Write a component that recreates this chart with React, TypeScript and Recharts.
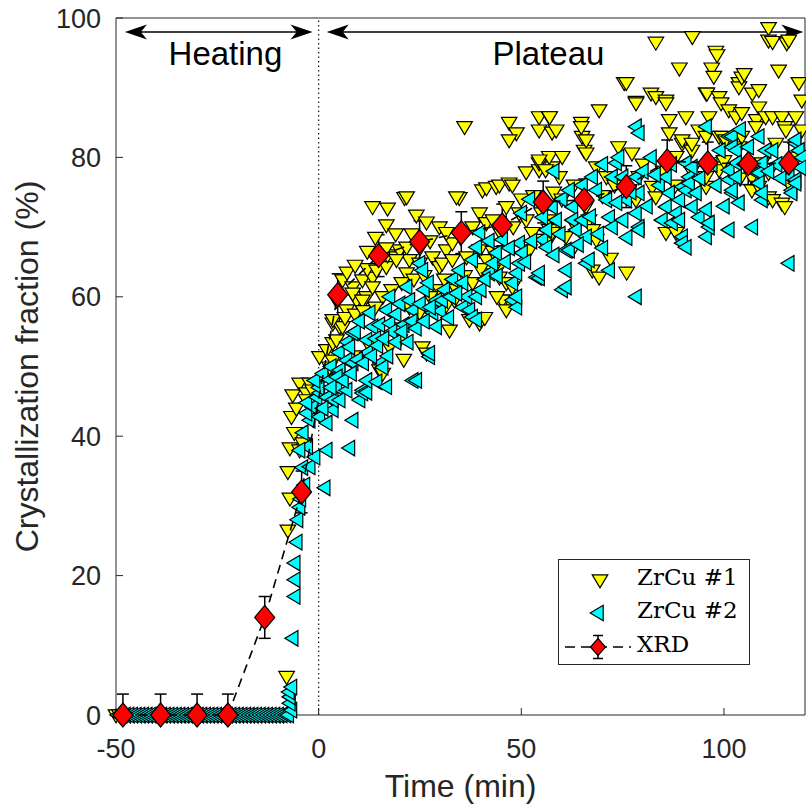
import {
  ScatterChart,
  Scatter,
  XAxis,
  YAxis,
  ReferenceLine,
  ReferenceDot,
  ErrorBar,
  Legend,
} from "recharts";

const FONT = '"Liberation Sans", Arial, Helvetica, sans-serif';
const SERIF = '"DejaVu Serif", "Liberation Serif", serif';
const AXIS = "#262626";
const YELLOW = "#ffff00";
const CYAN = "#00ffff";
const RED = "#ff0000";

const xTicks = [-50, 0, 50, 100];
const yTicks = [0, 20, 40, 60, 80, 100];

// ZrCu #1 (yellow, down triangles): times sitting at 0 %, then [time, fraction]
const zrcu1Flat = [
  -50, -49.1, -48.2, -47.3, -46.4, -45.5, -44.6, -43.7, -42.8, -41.9, -41, -40.1, -39.2, -38.3, -37.4, -36.5,
  -35.6, -34.7, -33.8, -32.9, -32, -31.1, -30.2, -29.3, -28.4, -27.5, -26.6, -25.7, -24.8, -23.9, -23, -22.1,
  -21.2, -20.3, -19.4, -18.5, -17.6, -16.7, -15.8, -14.9, -14, -13.1, -12.2, -11.3, -10.4, -9.5, -8.6,
];
const zrcu1Rest: [number, number][] = [
  [-7.9, 5.5], [-7.6, 26.5], [-7.1, 31.1], [-7.6, 34.9], [-7.1, 38.3], [-6, 40.5], [-6.7, 42.8], [-5.5, 44],
  [-6.4, 45.9], [-4.7, 47.6], [-3, 46.2], [-2.2, 47.6], [-1.5, 46.6], [-0.2, 47.3], [-4.7, 38], [-3.9, 39],
  [-3, 45.2], [0.2, 51.4], [2.7, 48.5], [2.7, 49.9], [2, 52.4], [3.5, 50.9], [3.5, 53.4], [4.4, 53.8],
  [3.5, 56.2], [5.2, 55.7], [5.9, 55.7], [3.5, 56.7], [4.4, 59.5], [6.9, 58.1], [9.4, 59.5], [11.8, 60],
  [5.9, 62.4], [8.4, 61.4], [10.8, 62.4], [13.3, 62.8], [8.4, 60.5], [10.8, 59.5], [13.3, 61.4], [15.8, 60],
  [7, 63.5], [12, 64], [14.3, 63.8], [16.7, 64.3], [17, 66], [19.2, 65.7], [20, 66.7], [21.7, 67.1],
  [16.7, 67], [22.4, 65.3], [24.9, 64.8], [21.7, 63.4], [19.2, 65.3], [28.1, 65.7], [29.8, 64.3], [30.5, 64.8],
  [31.5, 66.7], [33, 65.3], [33, 67.7], [36.5, 65.7], [39.7, 66.7], [41.4, 65.3], [44.6, 64.3], [42.9, 63.8],
  [44.6, 62.8], [46.3, 62], [47.8, 61.4], [47, 59.5], [45.3, 59.5], [46.3, 58.1], [29.8, 61], [32.3, 55.2],
  [37.2, 56.7], [39.7, 56.2], [41, 57], [44, 60], [22.4, 58.5], [24.9, 57.7], [17.5, 52.8], [20, 53.8],
  [25.6, 52.8], [26.6, 51.9], [15, 49.5], [15.8, 49], [13.3, 72.9], [17, 72.7], [16.7, 70.3], [21.2, 74.2],
  [21.7, 74.3], [24.1, 71.7], [26.6, 70.7], [29.8, 70], [31.5, 69.2], [34.7, 74.2], [34, 74.3], [36, 84.4],
  [39.7, 72], [41.4, 70.6], [43, 71], [45, 69], [48, 70], [46.3, 72.9], [49.5, 72], [51.2, 71],
  [52.7, 69.2], [52, 66.7], [55.2, 68.2], [56.9, 68.2], [56.9, 69.6], [55, 72], [50, 74], [53, 74.5],
  [40.4, 75.3], [41.4, 75.6], [43.8, 75.8], [44.6, 76], [47, 76.3], [47.8, 76], [51.2, 77.9], [54.4, 78.2],
  [57.6, 78.6], [58, 75], [47, 85], [48.8, 83.5], [47, 82.5], [54.4, 85.8], [56.9, 85.8], [54.4, 83.9],
  [57.6, 83.6], [57, 85.8], [58.6, 83.9], [54.4, 79.2], [56.9, 80.1], [60.1, 80.1], [54.4, 79.6], [56, 78.2],
  [59.4, 77.2], [57, 71], [57.6, 69.2], [61, 68.6], [63.5, 70], [66.7, 71], [62.6, 66.7], [67.5, 63.8],
  [60, 74], [63, 76], [66, 73], [64.8, 85], [65, 83], [65.5, 81], [64.8, 84.4], [66, 82.5],
  [66, 80.6], [68.5, 78.6], [71, 77.2], [70, 74.5], [73, 76], [67.6, 69.6], [68.5, 68.2], [69.2, 62.8],
  [72, 65.5], [76, 63.5], [69.2, 86.8], [75.4, 90.7], [75.9, 90.7], [74, 81.5], [77.3, 80.6], [76.6, 75.3],
  [78.3, 73.9], [79, 77.2], [80, 79], [82.3, 75.8], [83.2, 74.3], [78.3, 88], [78.3, 87.8], [82, 89.2],
  [83.2, 88.7], [85.7, 88.2], [85.7, 87.8], [83.2, 96.5], [86.5, 85.4], [90.6, 85.8], [86.5, 83.5], [88.2, 80.1],
  [89.7, 82], [89.7, 82.5], [92.1, 81], [92.1, 82], [85, 78], [88, 76], [92, 78], [85.7, 69.2],
  [88.2, 69.2], [89, 92.8], [92.2, 97.3], [93.8, 83.9], [95.6, 83], [95.6, 75.8], [95.6, 77.2], [95.6, 89.2],
  [95.8, 89.2], [96.3, 85.8], [97, 92.8], [97.5, 91.6], [98, 95.2], [98.3, 94.7], [98.8, 88.7], [99.3, 87.8],
  [98.8, 83], [99.5, 83], [98.8, 78.6], [98.8, 78.2], [100, 79.5], [100.4, 82.5], [101.2, 86.8], [103, 85.8],
  [103.7, 81.5], [103.7, 90.7], [103.7, 90.1], [104.4, 91.5], [105, 92], [104.4, 86.4], [104.4, 83], [104, 77],
  [106.9, 75.3], [106.9, 77.2], [107, 89.2], [108.6, 89.7], [108.6, 87.2], [108, 85.4], [107.9, 84.4], [108.6, 75.8],
  [109.4, 79.2], [110.3, 85.8], [111, 77.8], [111, 74.3], [111, 98.6], [111, 96.8], [112, 96.6], [112, 85.8],
  [112.8, 82], [112, 73.9], [113.5, 92.5], [114.3, 85.8], [114.3, 73.4], [115, 84.4], [115.3, 83.9], [115, 72.9],
  [115.5, 96.4], [116, 96.8], [116, 76.3], [117.7, 85.8], [118, 80], [118.5, 90.7], [119.2, 88.2], [119.2, 83.9],
  [6.5, 57], [9, 57.5], [11, 58], [14, 58.5], [18, 61], [20.5, 62], [23.5, 62.5], [26, 63],
  [27.5, 60], [31, 62.5], [34, 61], [36, 63], [38, 62], [40, 64], [43, 66.5], [35, 68.5],
  [38, 70], [27.5, 68], [25, 67], [23, 69], [19, 69], [12, 66.5], [14, 68.5], [9, 64.5],
  [31.5, 58.8], [33.5, 59.5], [19, 55.5], [21, 51], [12.5, 53], [10, 51.5],
];

// ZrCu #2 (cyan, left triangles)
const zrcu2Flat = [
  -49.6, -48.7, -47.8, -46.9, -46, -45.1, -44.2, -43.3, -42.4, -41.5, -40.6, -39.7, -38.8, -37.9, -37, -36.1,
  -35.2, -34.3, -33.4, -32.5, -31.6, -30.7, -29.8, -28.9, -28, -27.1, -26.2, -25.3, -24.4, -23.5, -22.6, -21.7,
  -20.8, -19.9, -19, -18.1, -17.2, -16.3, -15.4, -14.5, -13.6, -12.7, -11.8, -10.9, -10, -9.1, -8.2, -7.5,
];
const zrcu2Rest: [number, number][] = [
  [-6.7, 0.7], [-7.1, 1.7], [-7.1, 2.6], [-7.3, 3.3], [-6.7, 4], [-6.4, 11], [-5.9, 17], [-5.9, 19.4],
  [-5.9, 21.8], [-5.4, 24.8], [-5.2, 28], [-4.7, 29.8], [-4.5, 31], [-3.5, 33], [-4, 35.5], [-2.2, 35.6],
  [-1, 37], [-2.8, 38.5], [-4.7, 38], [-3.9, 40.5], [-2.2, 42.3], [-3, 43.3], [-1.5, 44.2], [-3, 44.8],
  [-0.5, 45.6], [0.2, 42.8], [0.2, 46.2], [0, 47], [-1, 48], [1.5, 32.6], [2, 38], [2, 41.9],
  [2, 45.6], [1, 49], [2.7, 48.1], [3, 50], [3.5, 43.8], [3.5, 45.2], [4.4, 47.1], [5.2, 45.2],
  [5.2, 49], [5.2, 49.5], [5, 52], [6.9, 46.6], [6.9, 50.9], [7, 53.5], [7.6, 38.3], [7.6, 52.8],
  [8.4, 42.3], [8.4, 50.5], [8.4, 54.8], [9, 55], [10, 56.5], [10.1, 45.2], [10.8, 46.6], [10.8, 46.2],
  [11.8, 46.3], [11.8, 48], [11.8, 53.8], [12, 52], [12.6, 57.7], [13.3, 55.7], [14, 54], [14.3, 47.8],
  [15, 56], [15.2, 50.5], [15.8, 49.9], [16.7, 47.1], [16.7, 58.1], [17, 51.5], [17.5, 56.2], [17.5, 60],
  [18, 55], [19, 57.5], [20, 59], [21, 56], [21.7, 61.4], [22.4, 59.5], [23.2, 58.1], [23, 56.5],
  [23.2, 48], [24.1, 48], [24.9, 64.8], [25, 59], [25.6, 63.8], [26, 61], [27, 62], [27.3, 51.4],
  [27.3, 51.9], [28.1, 57.7], [29, 55.7], [29, 59.5], [30, 58], [31, 61], [32, 57], [33, 62.5],
  [34.7, 63.8], [35.5, 62], [35.5, 58.5], [36.5, 60], [37.2, 58.1], [37.9, 57.1], [37.9, 65.3], [38.9, 56.7],
  [38.9, 60], [38.9, 67.1], [39.7, 69.2], [42, 68], [42.1, 63.4], [42.9, 64.8], [43.8, 66.3], [45, 70.5],
  [45.3, 68.2], [47.8, 59.5], [47.8, 62], [48.8, 58.5], [48.8, 60], [48.8, 63.4], [49.5, 64.8], [49.5, 67.7],
  [50, 72], [50.2, 66.3], [52, 74], [53.7, 62.8], [54.4, 62.7], [54.4, 63.4], [55.2, 68.2], [55.2, 71.4],
  [56.2, 67.1], [56.2, 69.6], [57.6, 72.9], [58, 78], [58.6, 71], [60, 74], [60.1, 61], [61, 61.4],
  [61, 63.8], [61, 66.7], [61.8, 66.7], [61.8, 75.3], [62.6, 72.9], [62.6, 71], [63.5, 69.6], [65, 71],
  [65, 76], [66, 64.8], [66, 68.6], [66.7, 65.3], [67.5, 77.2], [68.5, 75.3], [70, 67], [70, 79],
  [71, 73.9], [71.7, 71.4], [71.7, 63.8], [72.4, 70], [72.4, 77.2], [73.4, 79.2], [74, 80], [75, 77.2],
  [75, 71], [75.9, 73.9], [76, 68.5], [78.3, 84.4], [78.3, 77.2], [78.3, 72], [78.3, 60], [79, 83.5],
  [79, 74.9], [79, 70], [79, 69.6], [80, 78], [82, 80], [84, 76], [84.7, 71], [85.7, 77.2],
  [85.7, 72.9], [86.5, 74.9], [87.2, 70.6], [88.2, 72], [89, 71], [89, 73.9], [89.7, 68.6], [89.7, 67.7],
  [89.7, 75.8], [90.6, 79.2], [90.6, 75.3], [90.6, 67.1], [91.4, 77.2], [91.4, 76.3], [92.1, 78.6], [92.1, 72.9],
  [93.1, 74.9], [93.8, 71.4], [95.6, 84.4], [95.6, 72.5], [95.6, 68.6], [96.3, 70], [96.3, 70.6], [97, 79],
  [99, 81], [101.2, 76.8], [101.2, 78.2], [101.2, 69.6], [101.2, 83], [102, 83], [102, 81.5], [102, 74.9],
  [102, 75.3], [103, 81], [103, 79.2], [103, 77.2], [103.7, 73.5], [104, 84], [107, 70], [107.9, 77.8],
  [108.6, 83], [108.6, 77.8], [108.6, 76.3], [109.4, 73.9], [109.4, 74.9], [109.4, 79.2], [110.3, 81], [112, 81],
  [113, 79], [116, 64.8], [116, 77.2], [116.7, 75.3], [116.7, 74.9], [117.7, 76.8], [117.7, 76.3], [117.7, 82],
  [117.7, 82.5], [118.5, 81], [119.2, 80],
  [1, 44], [3, 47], [4.5, 48.5], [6, 48], [8, 49], [9.5, 51], [11, 50.5], [13, 51.5],
  [14.5, 53], [16, 54], [19, 53.5], [20.5, 55], [22, 53.5], [24, 55.5], [26, 56.5], [27.5, 58.5],
  [30.5, 59.5], [32.5, 60], [34, 60.5], [40, 61], [41, 62.5], [44, 63], [46, 65], [47, 67],
  [51, 65], [52.5, 68], [58, 66], [59.5, 69], [64, 67.5], [67, 71.5], [69, 69], [73.5, 73.5],
  [77, 75], [81, 73], [83, 77.5], [87, 79], [94, 77], [98, 76], [100, 73], [105, 79],
  [106, 81.5], [111, 78], [114, 77], [119, 78.5],
];

// XRD
const xrdTime = [-48.3, -39, -30, -22.4, -13.3, -4.2, 4.7, 14.8, 24.9, 35.2, 45.3, 55.4, 65.5, 75.9, 86, 96, 106, 116];
const xrdFrac = [0, 0, 0, 0, 14, 32, 60.3, 65.9, 67.9, 69.2, 70.3, 73.6, 73.9, 75.8, 79.5, 79.2, 79.1, 79.2];
const xrdErrLow = [0, 0, 0, 0, 3, 3, 3, 3, 3, 3, 3, 3, 3, 3, 3, 3, 3, 3];
const xrdErrHigh = [3, 3, 3, 3, 3, 3, 3, 3, 3, 3, 3, 3, 3, 3, 3, 3, 3, 3];

const zrcu1Data = [...zrcu1Flat.map((x) => ({ x, y: 0 })), ...zrcu1Rest.map(([x, y]) => ({ x, y }))];
const zrcu2Data = [...zrcu2Flat.map((x) => ({ x, y: 0 })), ...zrcu2Rest.map(([x, y]) => ({ x, y }))];
const xrdData = xrdTime.map((x, i) => ({ x, y: xrdFrac[i], err: [xrdErrLow[i], xrdErrHigh[i]] }));

function DownTriangle({ cx, cy }: any) {
  if (cx == null || cy == null) return null;
  return (
    <polygon
      points={`${cx - 7.8},${cy - 5.2} ${cx + 7.8},${cy - 5.2} ${cx},${cy + 7.8}`}
      fill={YELLOW}
      stroke="#000"
      strokeWidth={1.2}
    />
  );
}

function LeftTriangle({ cx, cy }: any) {
  if (cx == null || cy == null) return null;
  return (
    <polygon
      points={`${cx - 7.8},${cy} ${cx + 5.2},${cy - 7.8} ${cx + 5.2},${cy + 7.8}`}
      fill={CYAN}
      stroke="#000"
      strokeWidth={1.2}
    />
  );
}

function Diamond({ cx, cy, w = 10, h = 12 }: any) {
  if (cx == null || cy == null) return null;
  return (
    <polygon
      points={`${cx},${cy - h} ${cx + w},${cy} ${cx},${cy + h} ${cx - w},${cy}`}
      fill={RED}
      stroke="#000"
      strokeWidth={1.2}
    />
  );
}

function Nothing() {
  return <g />;
}

function arrowHead(tx: number, ty: number, dir: number) {
  const back = tx - dir * 22;
  const notch = tx - dir * 16;
  return (
    <polygon points={`${tx},${ty} ${back},${ty - 7.5} ${notch},${ty} ${back},${ty + 7.5}`} fill="#000" />
  );
}

function DoubleArrow(props: any) {
  const { x1, y1, x2, y2 } = props;
  return (
    <g>
      <line x1={x1 + 10} y1={y1} x2={x2 - 10} y2={y2} stroke="#000" strokeWidth={1.5} />
      {arrowHead(x1, y1, -1)}
      {arrowHead(x2, y2, 1)}
    </g>
  );
}

function PhaseLabel(text: string) {
  return (props: any) => (
    <text x={props.cx} y={props.cy} textAnchor="middle" fontSize={33} fontFamily={FONT} fill="#000">
      {text}
    </text>
  );
}

function YTitle({ viewBox }: any) {
  const cy = viewBox.y + viewBox.height / 2;
  return (
    <text
      transform={`translate(38,${cy}) rotate(-90)`}
      textAnchor="middle"
      fontSize={32}
      fontFamily={FONT}
      fill={AXIS}
    >
      Crystallization fraction (%)
    </text>
  );
}

function LegendBox() {
  const txt = { fontSize: 23, fontFamily: SERIF, fill: "#000" };
  return (
    <svg width={192} height={106} style={{ display: "block" }}>
      <rect x={0.5} y={0.5} width={191} height={105} fill="#fff" stroke={AXIS} strokeWidth={1} />
      <DownTriangle cx={42} cy={21} />
      <text x={79} y={26} {...txt}>ZrCu #1</text>
      <LeftTriangle cx={40} cy={54} />
      <text x={79} y={59} {...txt}>ZrCu #2</text>
      <line x1={7} y1={88} x2={73} y2={88} stroke="#000" strokeWidth={1.5} strokeDasharray="10 6" />
      <line x1={40} y1={76.5} x2={40} y2={99.5} stroke="#000" strokeWidth={1.5} />
      <line x1={35} y1={76.5} x2={45} y2={76.5} stroke="#000" strokeWidth={1.5} />
      <line x1={35} y1={99.5} x2={45} y2={99.5} stroke="#000" strokeWidth={1.5} />
      <Diamond cx={40} cy={88} w={7.5} h={8.5} />
      <text x={79} y={93} {...txt}>XRD</text>
    </svg>
  );
}

export default function App() {
  const tickStyle = { fill: AXIS, fontSize: 27, fontFamily: FONT };
  return (
    <div style={{ width: 806, height: 807, background: "#fff" }}>
      <style>{"body{margin:0;background:#fff}"}</style>
      <ScatterChart width={806} height={807} margin={{ top: 0, right: 0, bottom: 0, left: 0 }}>
        <XAxis
          type="number"
          dataKey="x"
          domain={[-50, 120]}
          ticks={xTicks}
          height={92}
          tickSize={-7}
          tickMargin={31}
          tick={tickStyle}
          axisLine={{ stroke: AXIS }}
          tickLine={{ stroke: AXIS }}
          label={{ value: "Time (min)", position: "insideBottom", offset: 10, fontSize: 32, fontFamily: FONT, fill: AXIS }}
        />
        <XAxis
          xAxisId="top"
          orientation="top"
          type="number"
          domain={[-50, 120]}
          ticks={xTicks}
          height={18}
          tickSize={-7}
          tick={false}
          axisLine={{ stroke: AXIS }}
          tickLine={{ stroke: AXIS }}
        />
        <YAxis
          type="number"
          dataKey="y"
          domain={[0, 100]}
          ticks={yTicks}
          width={116}
          tickSize={-7}
          tickMargin={22}
          tick={tickStyle}
          axisLine={{ stroke: AXIS }}
          tickLine={{ stroke: AXIS }}
          label={<YTitle />}
        />
        <YAxis
          yAxisId="right"
          orientation="right"
          type="number"
          domain={[0, 100]}
          ticks={yTicks}
          width={1}
          tickSize={-7}
          tick={false}
          axisLine={{ stroke: AXIS }}
          tickLine={{ stroke: AXIS }}
        />
        <ReferenceLine x={0} stroke={AXIS} strokeWidth={1.3} strokeDasharray="1.5 3" />
        <ReferenceLine
          segment={[{ x: -47.8, y: 98 }, { x: -1.5, y: 98 }]}
          shape={DoubleArrow}
        />
        <ReferenceLine
          segment={[{ x: 2, y: 98 }, { x: 119.6, y: 98 }]}
          shape={DoubleArrow}
        />
        <ReferenceDot x={-23} y={93.3} r={0} shape={PhaseLabel("Heating")} />
        <ReferenceDot x={56.7} y={93.3} r={0} shape={PhaseLabel("Plateau")} />
        <Scatter name="ZrCu #1" data={zrcu1Data} shape={<DownTriangle />} isAnimationActive={false} />
        <Scatter name="ZrCu #2" data={zrcu2Data} shape={<LeftTriangle />} isAnimationActive={false} />
        <Scatter
          name="XRD"
          data={xrdData}
          shape={<Nothing />}
          line={{ stroke: "#000", strokeWidth: 1.6, strokeDasharray: "9 6" }}
          lineType="joint"
          isAnimationActive={false}
        >
          <ErrorBar dataKey="err" direction="y" width={6} stroke="#000" strokeWidth={1.5} />
        </Scatter>
        <Scatter name="XRD markers" data={xrdData} shape={<Diamond />} legendType="none" isAnimationActive={false} />
        <Legend
          layout="vertical"
          align="center"
          verticalAlign="middle"
          content={<LegendBox />}
          wrapperStyle={{ left: 558, top: 559, width: 192, height: 106 }}
        />
      </ScatterChart>
    </div>
  );
}
